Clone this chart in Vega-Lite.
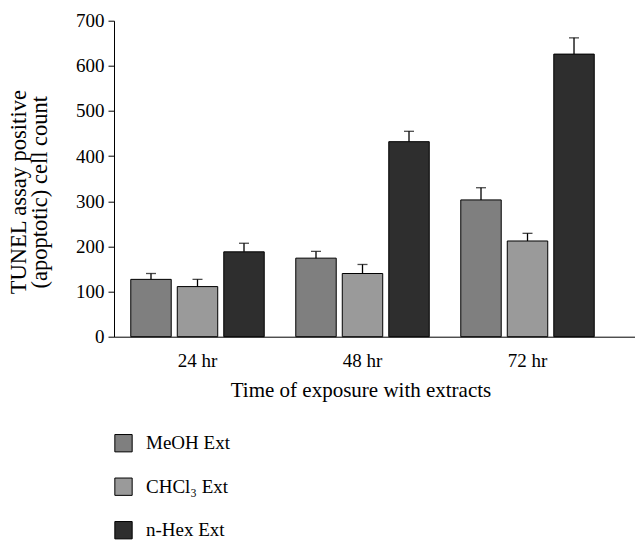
{
  "$schema": "https://vega.github.io/schema/vega-lite/v6.json",
  "width": 521,
  "height": 316,
  "autosize": {"type": "none"},
  "padding": {"left": 114, "top": 20.7, "right": 0, "bottom": 203.3},
  "background": "white",
  "config": {
    "view": {"stroke": null},
    "font": "Liberation Serif",
    "axis": {
      "labelFont": "Liberation Serif",
      "titleFont": "Liberation Serif",
      "labelColor": "black",
      "titleColor": "black",
      "domainColor": "black",
      "tickColor": "black",
      "grid": false,
      "titleFontWeight": "normal"
    },
    "legend": {
      "labelFont": "Liberation Serif",
      "labelFontSize": 19,
      "labelColor": "black"
    }
  },
  "data": {
    "values": [
      {"time": "24 hr", "extract": "MeOH Ext", "count": 127, "upper": 140},
      {"time": "24 hr", "extract": "CHCl₃ Ext", "count": 111, "upper": 127},
      {"time": "24 hr", "extract": "n-Hex Ext", "count": 188, "upper": 207},
      {"time": "48 hr", "extract": "MeOH Ext", "count": 174, "upper": 189},
      {"time": "48 hr", "extract": "CHCl₃ Ext", "count": 140, "upper": 160},
      {"time": "48 hr", "extract": "n-Hex Ext", "count": 432, "upper": 455},
      {"time": "72 hr", "extract": "MeOH Ext", "count": 303, "upper": 330},
      {"time": "72 hr", "extract": "CHCl₃ Ext", "count": 212, "upper": 229},
      {"time": "72 hr", "extract": "n-Hex Ext", "count": 626, "upper": 662}
    ]
  },
  "encoding": {
    "x": {
      "field": "time",
      "type": "nominal",
      "sort": ["24 hr", "48 hr", "72 hr"],
      "scale": {"paddingInner": 0.1545, "paddingOuter": 0.156, "align": 0.267},
      "axis": {
        "title": "Time of exposure with extracts",
        "titleFont": "Liberation Serif",
        "titleFontSize": 21,
        "titleX": 246.5,
        "titleY": 60,
        "titleAlign": "center",
        "titleBaseline": "alphabetic",
        "labelFont": "Liberation Serif",
        "labelAngle": 0,
        "labelFontSize": 19,
        "labelPadding": 15,
        "ticks": false,
        "tickSize": 0,
        "domainWidth": 1
      }
    },
    "xOffset": {
      "field": "extract",
      "type": "nominal",
      "sort": ["MeOH Ext", "CHCl₃ Ext", "n-Hex Ext"],
      "scale": {"paddingInner": 0.13, "paddingOuter": 0.065}
    }
  },
  "layer": [
    {
      "mark": {"type": "bar", "stroke": "black", "strokeWidth": 1},
      "encoding": {
        "y": {
          "field": "count",
          "type": "quantitative",
          "scale": {"domain": [0, 700], "nice": false},
          "axis": {
            "title": ["TUNEL assay positive", "(apoptotic) cell count"],
            "titleFont": "Liberation Serif",
            "titleFontSize": 22.5,
            "titleLineHeight": 21,
            "titleX": -84,
            "titleY": 171,
            "titleAngle": 270,
            "titleAlign": "center",
            "titleBaseline": "bottom",
            "values": [0, 100, 200, 300, 400, 500, 600, 700],
            "labelFont": "Liberation Serif",
            "labelFontSize": 19,
            "labelPadding": 4,
            "tickSize": 6,
            "domainWidth": 1
          }
        },
        "fill": {
          "field": "extract",
          "type": "nominal",
          "scale": {
            "domain": ["MeOH Ext", "CHCl₃ Ext", "n-Hex Ext"],
            "range": ["#7f7f7f", "#9a9a9a", "#2e2e2e"]
          },
          "legend": {
            "title": null,
            "orient": "none",
            "legendX": 0,
            "legendY": 413,
            "direction": "vertical",
            "padding": 0,
            "rowPadding": 20.5,
            "symbolType": "square",
            "symbolSize": 300,
            "symbolStrokeColor": "black",
            "symbolStrokeWidth": 1,
            "labelOffset": 13,
            "labelFont": "Liberation Serif"
          }
        }
      }
    },
    {
      "mark": {"type": "rule", "color": "black", "strokeWidth": 1.3},
      "encoding": {
        "y": {"field": "count", "type": "quantitative"},
        "y2": {"field": "upper"}
      }
    },
    {
      "mark": {"type": "tick", "color": "black", "size": 10, "thickness": 1.3},
      "encoding": {
        "y": {"field": "upper", "type": "quantitative"}
      }
    }
  ]
}
